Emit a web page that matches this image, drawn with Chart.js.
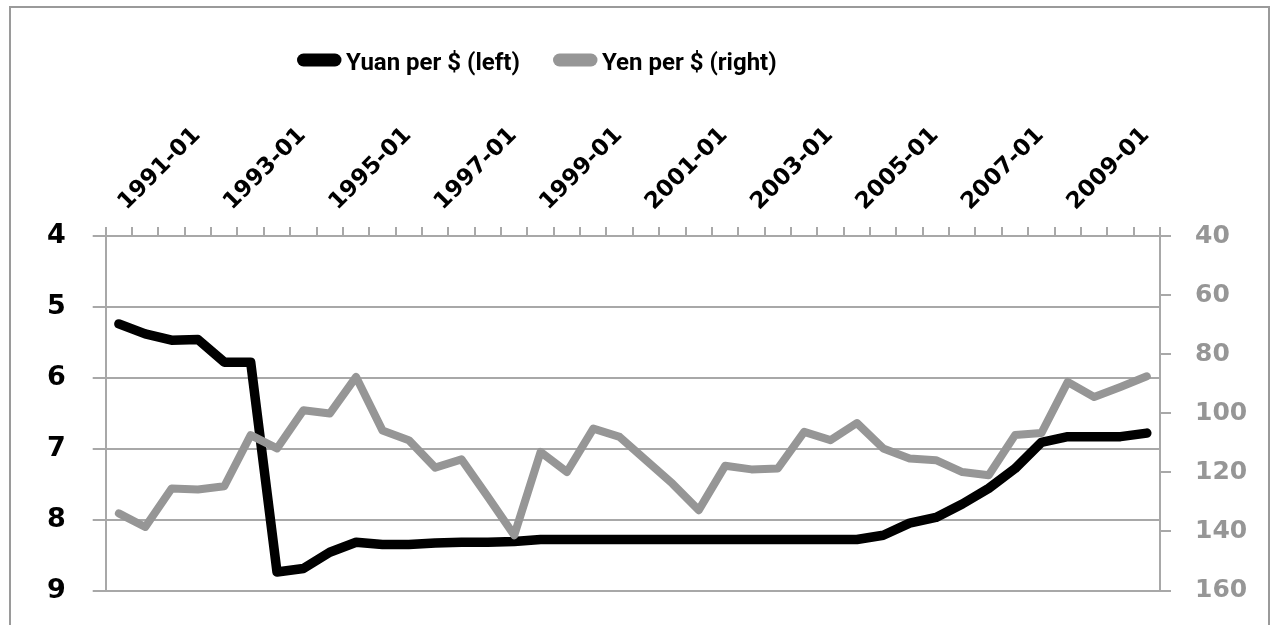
<!DOCTYPE html>
<html>
<head>
<meta charset="utf-8">
<script src="https://cdn.jsdelivr.net/npm/chart.js@4/dist/chart.umd.min.js"></script>
<style>
  html, body { margin: 0; padding: 0; background: #fff; overflow: hidden; }
  #wrap { position: relative; width: 1276px; height: 625px; }
</style>
</head>
<body>
<div id="wrap"><canvas id="fx" width="1276" height="625"></canvas></div>
<script>
// ── data (semiannual) ──
const periods = [
  '1991-01', '1991-07', '1992-01', '1992-07', '1993-01', '1993-07', '1994-01', '1994-07',
  '1995-01', '1995-07', '1996-01', '1996-07', '1997-01', '1997-07', '1998-01', '1998-07',
  '1999-01', '1999-07', '2000-01', '2000-07', '2001-01', '2001-07', '2002-01', '2002-07',
  '2003-01', '2003-07', '2004-01', '2004-07', '2005-01', '2005-07', '2006-01', '2006-07',
  '2007-01', '2007-07', '2008-01', '2008-07', '2009-01', '2009-07', '2010-01', '2010-07'
];

const yuanPerDollar = [
  5.24, 5.38, 5.47, 5.46, 5.78, 5.78, 8.74, 8.69, 8.46, 8.32,
  8.35, 8.35, 8.33, 8.32, 8.32, 8.31, 8.28, 8.28, 8.28, 8.28,
  8.28, 8.28, 8.28, 8.28, 8.28, 8.28, 8.28, 8.28, 8.28, 8.22,
  8.05, 7.97, 7.78, 7.56, 7.28, 6.91, 6.83, 6.83, 6.83, 6.78
];

const yenPerDollar = [
  133.9, 138.5, 125.5, 125.8, 124.7, 107.4, 111.9, 99.0, 100.1, 87.7,
  105.8, 109.1, 118.4, 115.6, 128.3, 141.3, 113.1, 119.9, 105.2, 108.0,
  115.9, 123.8, 132.8, 117.8, 119.0, 118.7, 106.3, 109.1, 103.3, 111.9,
  115.3, 115.9, 119.9, 121.0, 107.4, 106.7, 89.4, 94.5, 91.1, 87.5
];

const yuanTicks = [4, 5, 6, 7, 8, 9];
const yenTicks = [40, 60, 80, 100, 120, 140, 160];

const seriesNames = ['Yuan per $ (left)', 'Yen per $ (right)'];

// ── look ──
const TEXT_FONT = 'Roboto, "Open Sans", sans-serif';
const NUM_FONT = '"DejaVu Sans", sans-serif';
const GRID = '#a8a8a8';
const GREY = '#969696';

// frame round the whole picture, like the spreadsheet chart border
const framePlugin = {
  id: 'frame',
  beforeDraw(chart) {
    const ctx = chart.ctx;
    ctx.save();
    ctx.strokeStyle = '#9a9a9a';
    ctx.lineWidth = 2;
    ctx.strokeRect(10, 7, 1259, 700);
    ctx.restore();
  },
};

// legend drawn by hand: thick rounded line sample, text right after it
const legendPos = [297, 553];
const legendPlugin = {
  id: 'fatLegend',
  afterDraw(chart) {
    const ctx = chart.ctx;
    chart.data.datasets.forEach((ds, i) => {
      const x = legendPos[i];
      ctx.save();
      ctx.strokeStyle = ds.borderColor;
      ctx.lineWidth = 13;
      ctx.lineCap = 'round';
      ctx.beginPath();
      ctx.moveTo(x + 6.5, 60);
      ctx.lineTo(x + 38, 60);
      ctx.stroke();
      ctx.fillStyle = '#000';
      ctx.font = `bold 24px ${TEXT_FONT}`;
      ctx.textBaseline = 'alphabetic';
      ctx.fillText(ds.label, x + 49, 70);
      ctx.restore();
    });
  },
};

// keep Chart.js from adding label overhang to the plot insets
const noPad = s => { s.paddingTop = 0; s.paddingBottom = 0; s.paddingLeft = 0; s.paddingRight = 0; };

new Chart(document.getElementById('fx'), {
  type: 'line',
  data: {
    labels: periods,
    datasets: [
      {
        label: seriesNames[0],
        data: yuanPerDollar,
        yAxisID: 'y',
        borderColor: '#000',
        backgroundColor: '#000',
        borderWidth: 9.5,
        order: 2,
      },
      {
        label: seriesNames[1],
        data: yenPerDollar,
        yAxisID: 'y1',
        borderColor: GREY,
        backgroundColor: GREY,
        borderWidth: 8,
        order: 1,
      },
    ],
  },
  plugins: [framePlugin, legendPlugin],
  options: {
    responsive: false,
    animation: false,
    layout: { padding: { top: 0, left: 0, right: 0, bottom: 34.5 } },
    elements: {
      point: { radius: 0 },
      line: { tension: 0, borderJoinStyle: 'round', borderCapStyle: 'round' },
    },
    plugins: {
      legend: { display: false },
      tooltip: { enabled: false },
    },
    scales: {
      x: {
        position: 'top',
        offset: true,
        afterFit: s => { noPad(s); s.height = 236; },
        grid: {
          offset: true,
          drawOnChartArea: false,
          tickLength: 9,
          tickColor: GRID,
          lineWidth: 2,
        },
        border: { color: GRID, width: 2 },
        ticks: {
          autoSkip: false,
          minRotation: 45,
          maxRotation: 45,
          padding: 11,
          labelOffset: 23,
          color: '#000',
          font: { family: NUM_FONT, size: 23, weight: 'bold' },
          callback(v, i) { return i % 4 === 0 ? periods[i] : ''; },
        },
      },
      y: {
        position: 'left',
        reverse: true,
        min: 4,
        max: 9,
        afterFit: s => { noPad(s); s.width = 105.7; },
        afterBuildTicks: s => { s.ticks = yuanTicks.map(v => ({ value: v })); },
        grid: { color: GRID, lineWidth: 2, tickLength: 13 },
        border: { color: GRID, width: 2 },
        ticks: {
          padding: 27,
          color: '#000',
          font: { family: NUM_FONT, size: 27, weight: 'bold' },
        },
      },
      y1: {
        position: 'right',
        reverse: true,
        min: 40,
        max: 160,
        afterFit: s => { noPad(s); s.width = 116; },
        afterBuildTicks: s => { s.ticks = yenTicks.map(v => ({ value: v })); },
        grid: { drawOnChartArea: false, color: GRID, lineWidth: 2, tickLength: 11 },
        border: { color: GRID, width: 2 },
        ticks: {
          padding: 24,
          color: GREY,
          font: { family: NUM_FONT, size: 25, weight: 'bold' },
        },
      },
    },
  },
});
</script>
</body>
</html>
